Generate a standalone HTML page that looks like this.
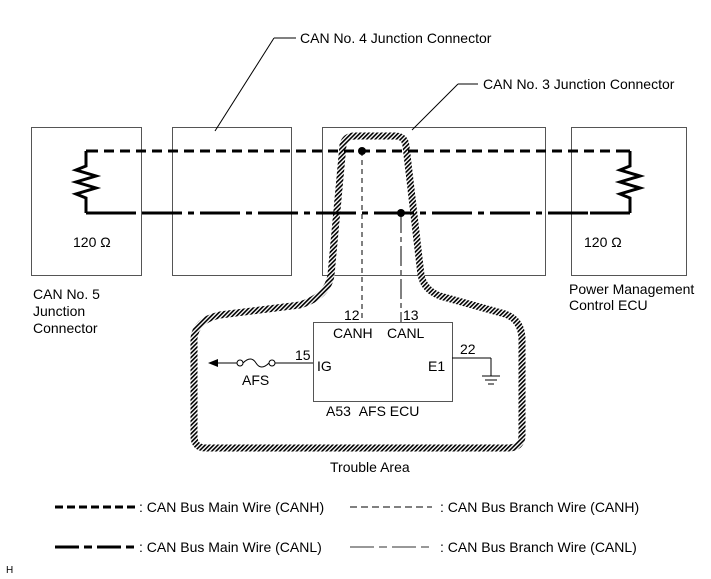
<!DOCTYPE html>
<html><head><meta charset="utf-8"><style>
html,body{margin:0;padding:0;background:#fff;}
svg{display:block;font-family:"Liberation Sans",Arial,sans-serif;}
text{font-size:14px;fill:#000;}
</style></head><body>
<svg width="711" height="579" viewBox="0 0 711 579" xmlns="http://www.w3.org/2000/svg">
<defs>
<pattern id="h" width="3" height="3" patternUnits="userSpaceOnUse" patternTransform="rotate(45)">
<rect width="3" height="3" fill="#fff"/><rect width="1.6" height="3" fill="#000"/>
</pattern>
</defs>
<g fill="none" stroke="#555" stroke-width="1">
<rect x="31.5" y="127.5" width="110" height="148"/>
<rect x="172.5" y="127.5" width="119" height="148"/>
<rect x="322.5" y="127.5" width="223" height="148"/>
<rect x="571.5" y="127.5" width="115" height="148"/>
</g>
<line x1="215" y1="131" x2="274" y2="38" stroke="#000"/>
<line x1="274" y1="38" x2="296" y2="38" stroke="#000"/>
<line x1="412" y1="130" x2="458" y2="84" stroke="#000"/>
<line x1="458" y1="84" x2="478" y2="84" stroke="#000"/>
<text x="300" y="43">CAN No. 4 Junction Connector</text>
<text x="483" y="89">CAN No. 3 Junction Connector</text>
<path d="M343,145 Q345,136 355,136 L395,136 Q405,136 406,146 L421,275 Q424,290 440,296 L505,314 Q522,320 522,340 L522,435 Q522,448 508,448 L206,448 Q194,448 194,436 L194,338 Q196,320 220,315 L300,305 Q328,296 331,275 Z" fill="none" stroke="url(#h)" stroke-width="7"/>
<polyline points="86,165 86,151 630,151 630,165" fill="none" stroke="#000" stroke-width="3" stroke-dasharray="10,6"/>
<line x1="86" y1="151" x2="96" y2="151" stroke="#000" stroke-width="3"/>
<line x1="620" y1="151" x2="630" y2="151" stroke="#000" stroke-width="3"/>
<line x1="86" y1="213" x2="130" y2="213" stroke="#000" stroke-width="3"/>
<line x1="130" y1="213" x2="630" y2="213" stroke="#000" stroke-width="3" stroke-dasharray="6,6,40,6"/>
<line x1="590" y1="213" x2="630" y2="213" stroke="#000" stroke-width="3"/>
<g fill="none" stroke="#000" stroke-width="3">
<polyline points="86,151 86,166 76,170 96,176 76,182 96,188 76,194 86,198 86,213"/>
<polyline points="630,151 630,166 620,170 640,176 620,182 640,188 620,194 630,198 630,213"/>
</g>
<circle cx="362" cy="151" r="4"/>
<circle cx="401" cy="213" r="4"/>
<line x1="362" y1="151" x2="362" y2="322" stroke="#000" stroke-dasharray="5,4"/>
<line x1="401" y1="213" x2="401" y2="322" stroke="#000" stroke-dasharray="20,4,5,4"/>
<text x="73" y="247">120 Ω</text>
<text x="584" y="247">120 Ω</text>
<text x="33" y="299">CAN No. 5</text>
<text x="33" y="316">Junction</text>
<text x="33" y="333">Connector</text>
<text x="569" y="294">Power Management</text>
<text x="569" y="310">Control ECU</text>
<rect x="313.5" y="322.5" width="139" height="79" fill="none" stroke="#555"/>
<text x="344" y="320">12</text><text x="403" y="320">13</text>
<text x="333" y="338">CANH</text><text x="387" y="338">CANL</text>
<text x="317" y="371">IG</text><text x="428" y="371">E1</text>
<text x="295" y="360">15</text><text x="460" y="354">22</text>
<text x="326" y="416">A53&#160;&#160;AFS ECU</text>
<line x1="313" y1="363" x2="275" y2="363" stroke="#000"/>
<circle cx="272" cy="363" r="3" fill="#fff" stroke="#000"/>
<circle cx="240" cy="363" r="3" fill="#fff" stroke="#000"/>
<path d="M243,363 Q251,355 256,363 Q261,371 269,363" fill="none" stroke="#000"/>
<line x1="237" y1="363" x2="215" y2="363" stroke="#000"/>
<polygon points="208,363 218,359 218,367"/>
<text x="242" y="385">AFS</text>
<line x1="452" y1="358" x2="491" y2="358" stroke="#000"/>
<line x1="491" y1="358" x2="491" y2="376" stroke="#000"/>
<line x1="482" y1="376" x2="500" y2="376" stroke="#000"/>
<line x1="485" y1="380" x2="497" y2="380" stroke="#000"/>
<line x1="488" y1="384" x2="494" y2="384" stroke="#000"/>
<text x="330" y="472">Trouble Area</text>
<line x1="55" y1="507" x2="137" y2="507" stroke="#000" stroke-width="3" stroke-dasharray="8,4"/>
<text x="139" y="512">: CAN Bus Main Wire (CANH)</text>
<line x1="350" y1="507" x2="432" y2="507" stroke="#000" stroke-dasharray="7,4"/>
<text x="440" y="512">: CAN Bus Branch Wire (CANH)</text>
<line x1="55" y1="547" x2="137" y2="547" stroke="#000" stroke-width="3" stroke-dasharray="24,5,8,5"/>
<text x="139" y="552">: CAN Bus Main Wire (CANL)</text>
<line x1="350" y1="547" x2="432" y2="547" stroke="#777" stroke-width="1.5" stroke-dasharray="24,5,8,5"/>
<text x="440" y="552">: CAN Bus Branch Wire (CANL)</text>
<text x="6" y="573" style="font-size:10px">H</text>
</svg>
</body></html>
